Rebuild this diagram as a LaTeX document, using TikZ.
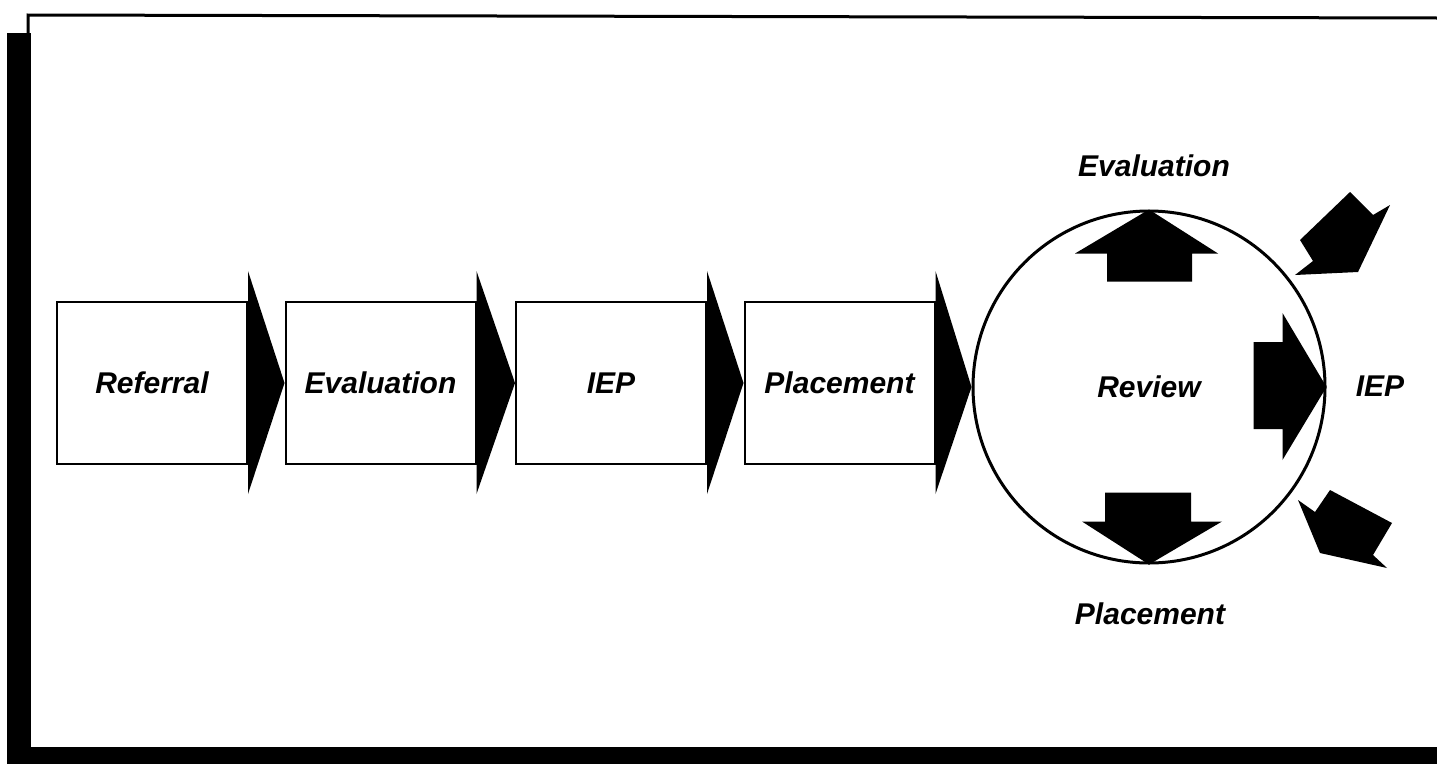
\documentclass[tikz,border=0pt]{standalone}
\usepackage{fontspec}
\setmainfont{Liberation Sans}
\usepackage{tikz}
\usetikzlibrary{calc}
\usetikzlibrary{shapes}

\newcommand{\diagfont}{\fontsize{22.5}{27}\selectfont\bfseries\itshape}

\begin{document}
\begin{tikzpicture}[x=0.75pt,y=0.75pt,yscale=-1,xscale=1,
  stagebox/.style={draw, line width=1.5pt, minimum width=142.5pt, minimum height=121.5pt, inner sep=0pt, font=\diagfont},
  solidhead/.style={fill=black, draw=none}]
\useasboundingbox (0,0) rectangle (1437,764);

%Frame
\fill (7,33) rectangle (31,764);
\fill (7,747) rectangle (1437,764);
\draw [line width=2.25pt] (28,34) -- (28,15) -- (1437,18) ;

%Shape: Rectangle
\node [stagebox] (referral) at (152,383) {Referral};
%Shape: Rectangle
\node [stagebox] (evaluation) at (380.5,383) {Evaluation};
%Shape: Rectangle
\node [stagebox] (iep) at (611,383) {IEP};
%Shape: Rectangle
\node [stagebox] (placement) at (839.5,383) {Placement};
%Shape: Circle
\node [circle, draw, line width=2.25pt, minimum size=264pt, inner sep=0pt, font=\diagfont] (review) at (1149,387) {Review};

%Shape: Triangle
\path [solidhead] ($(referral.north east)+(0,-30)$) -- (evaluation.west) -- ($(referral.south east)+(0,29)$) -- cycle ;
%Shape: Triangle
\path [solidhead] ($(evaluation.north east)+(0,-30)$) -- (iep.west) -- ($(evaluation.south east)+(0,29)$) -- cycle ;
%Shape: Triangle
\path [solidhead] ($(iep.north east)+(0,-30)$) -- (placement.west) -- ($(iep.south east)+(0,29)$) -- cycle ;
%Shape: Triangle
\path [solidhead] ($(placement.north east)+(0,-30)$) -- (review.west) -- ($(placement.south east)+(0,29)$) -- cycle ;

%Shape: Up Arrow
\path [solidhead] (review.north) -- ++(69,44) -- ++(-26,0) -- ++(0,28) -- ++(-85,0) -- ++(0,-28) -- ++(-32,0) -- cycle ;
%Shape: Down Arrow
\path [solidhead] (review.south) -- ++(-67,-43) -- ++(23,0) -- ++(0,-29) -- ++(86,0) -- ++(0,29) -- ++(31,0) -- cycle ;
%Shape: Right Arrow
\path [solidhead] (review.east) -- ++(-44,73) -- ++(0,-31) -- ++(-29,0) -- ++(0,-87) -- ++(29,0) -- ++(0,-29) -- cycle ;

%Shape: Polygon
\path [solidhead] (1300,240) -- (1350,192) -- (1373,215) -- (1390,205) -- (1358,272) -- (1295,275) -- (1313,261) -- cycle ;
%Shape: Polygon
\path [solidhead] (1298,500) -- (1315,512) -- (1330,490) -- (1392,523) -- (1373,555) -- (1387,568) -- (1320,553) -- cycle ;

% Text Node
\node [font=\diagfont] (evalnext) at (1154,166) {Evaluation};
% Text Node
\node [font=\diagfont] (iepnext) at (1380,386) {IEP};
% Text Node
\node [font=\diagfont] (placenext) at (1150,614) {Placement};

\end{tikzpicture}
\end{document}
